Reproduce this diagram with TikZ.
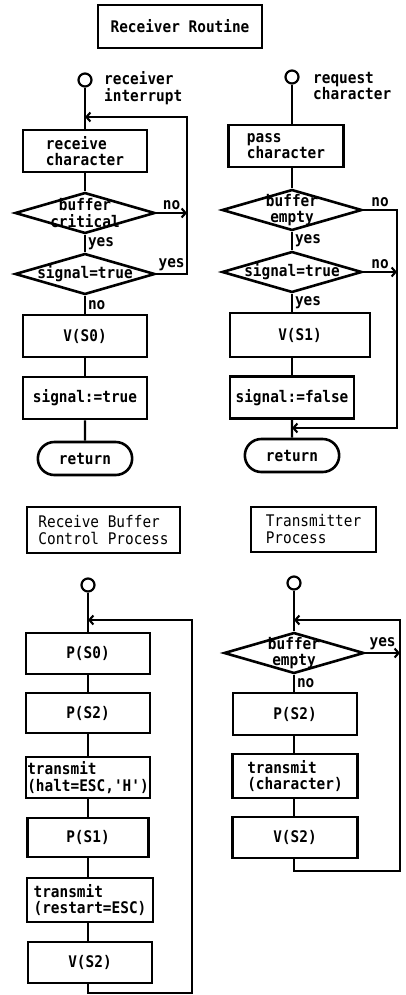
\documentclass[tikz,border=0pt]{standalone}
\usepackage{fontspec}
\setmonofont[FakeStretch=0.9]{DejaVu Sans Mono}
\usetikzlibrary{shapes.geometric, shapes.misc, arrows.meta, positioning}

\begin{document}
\begin{tikzpicture}[x=1pt, y=-1pt,
    every node/.style={font=\ttfamily\bfseries\fontsize{16}{16.5}\selectfont},
    box/.style={draw, line width=2.6pt, minimum width=124pt, minimum height=42pt, inner sep=1pt, align=left},
    cond/.style={diamond, draw, line width=2.6pt, minimum width=140pt, minimum height=41pt, inner sep=0pt},
    ctext/.style={align=center, inner sep=0pt},
    ending/.style={rounded rectangle, draw, line width=2.6pt, minimum width=101pt, minimum height=33pt},
    entry/.style={circle, draw, line width=2.2pt, minimum size=13pt, inner sep=0pt},
    heading/.style={draw, line width=2.6pt, align=left},
    note/.style={align=left, anchor=west, inner sep=0pt},
    flow/.style={line width=2.1pt},
    back/.style={flow, -{Straight Barb[length=4pt, width=9pt]}},
    tag/.style={inner sep=2pt}
  ]
  \useasboundingbox (0,0) rectangle (405,995);

  % receiver routine, interrupt side
  \node[heading, minimum width=164pt, minimum height=43pt, align=center] (rxtitle) at (180,26.5) {Receiver Routine};

  \node[entry] (irq) at (85,80) {};
  \node[note] (irqtext) at (104,88) {receiver\\interrupt};
  \coordinate (joinA) at (85,117);
  \coordinate (loopA) at (187,117);
  \node[box] (rxchar) at (85,151) {receive\\character};
  \node[cond, label={[ctext]center:{buffer\\critical}}] (crit) at (85,213) {};
  \node[cond, label={[ctext]center:{signal=true}}] (sigA) at (85,274) {};
  \node[box] (vzero) at (85,336) {V(S0)};
  \node[box] (setA) at (85,398) {signal:=true};
  \node[ending] (retA) at (85,458.5) {return};

  \draw[flow] (irq) -- (rxchar);
  \draw[flow] (rxchar) -- (crit);
  \draw[flow] (crit) -- node[right, tag] {yes} (sigA);
  \draw[flow] (sigA) -- node[right, tag] {no} (vzero);
  \draw[flow] (vzero) -- (setA);
  \draw[flow] (setA) -- (retA);
  \draw[back] (crit.east) -- node[above, tag] {no} (crit.east -| loopA);
  \draw[back] (sigA.east) -- node[above, tag] {yes} (sigA.east -| loopA) -- (loopA) -- (joinA);

  % receiver routine, request side
  \node[entry] (req) at (292,77) {};
  \node[note] (reqtext) at (313,86) {request\\character};
  \node[box, minimum width=115pt] (pass) at (286,146) {pass\\character};
  \node[cond, label={[ctext]center:{buffer\\empty}}] (empA) at (292,210) {};
  \node[cond, label={[ctext]center:{signal=true}}] (sigB) at (292,272) {};
  \node[box, minimum width=140pt, minimum height=44pt] (vone) at (300,335) {V(S1)};
  \node[box] (setB) at (292,397.5) {signal:=false};
  \node[ending] (retB) at (292,455.5) {return};
  \coordinate (loopB) at (397,428);
  \coordinate (joinB) at (292,428);

  \draw[flow] (req) -- (req |- pass.north);
  \draw[flow] (pass.south -| empA) -- (empA);
  \draw[flow] (empA) -- node[right, tag] {yes} (sigB);
  \draw[flow] (sigB) -- node[right, tag] {yes} (sigB |- vone.north);
  \draw[flow] (vone.south -| setB) -- (setB);
  \draw[flow] (setB) -- (retB);
  \draw[back] (empA.east) -- node[above, tag] {no} (empA.east -| loopB) -- (loopB) -- (joinB);
  \draw[back] (sigB.east) -- node[above, tag] {no} (sigB.east -| loopB);

  % receive buffer control process
  \node[heading, font=\ttfamily\mdseries\fontsize{16}{17}\selectfont, minimum width=153pt, minimum height=46pt] (ctltitle) at (103.5,530) {Receive Buffer\\Control Process};

  \node[entry] (ctlstart) at (88,585) {};
  \coordinate (joinC) at (88,620);
  \coordinate (loopC) at (192,620);
  \coordinate (baseC) at (88,993);
  \node[box, minimum height=41pt] (pzero) at (88,653.5) {P(S0)};
  \node[box, minimum height=40pt] (ptwo) at (88,713) {P(S2)};
  \node[box, minimum height=41pt] (halt) at (88,777.5) {transmit\\(halt=ESC,'H')};
  \node[box, minimum width=121pt, minimum height=39pt] (pone) at (88,837.5) {P(S1)};
  \node[box, minimum width=126pt, minimum height=44pt] (restart) at (90,900) {transmit\\(restart=ESC)};
  \node[box, minimum height=41pt] (vtwo) at (90,962.5) {V(S2)};

  \draw[flow] (ctlstart) -- (pzero);
  \draw[flow] (pzero) -- (ptwo);
  \draw[flow] (ptwo) -- (halt);
  \draw[flow] (halt) -- (pone);
  \draw[flow] (pone.south) -- (pone.south |- restart.north);
  \draw[flow] (restart.south -| pone) -- (pone |- vtwo.north);
  \draw[back] (pone |- vtwo.south) -- (baseC) -| (loopC) -- (joinC);

  % transmitter process
  \node[heading, font=\ttfamily\mdseries\fontsize{16}{17}\selectfont, minimum width=125pt, minimum height=45pt] (txtitle) at (313.5,529.5) {Transmitter\\Process};

  \node[entry] (txstart) at (294,583) {};
  \coordinate (joinD) at (294,620);
  \coordinate (loopD) at (400,620);
  \coordinate (baseD) at (294,871);
  \node[cond, label={[ctext]center:{buffer\\empty}}] (empB) at (294,653) {};
  \node[box] (ptwoB) at (295,714) {P(S2)};
  \node[box, minimum width=125pt, minimum height=44pt] (txchar) at (295,776) {transmit\\(character)};
  \node[box, minimum width=125pt, minimum height=41pt] (vtwoB) at (295,837.5) {V(S2)};

  \draw[flow] (txstart) -- (empB);
  \draw[flow] (empB) -- node[right, tag] {no} (empB |- ptwoB.north);
  \draw[flow] (ptwoB.south -| empB) -- (empB |- txchar.north);
  \draw[flow] (txchar.south -| empB) -- (empB |- vtwoB.north);
  \draw[back] (empB.east) -- node[above, tag] {yes} (empB.east -| loopD);
  \draw[back] (empB |- vtwoB.south) -- (baseD) -| (loopD) -- (joinD);
\end{tikzpicture}
\end{document}
